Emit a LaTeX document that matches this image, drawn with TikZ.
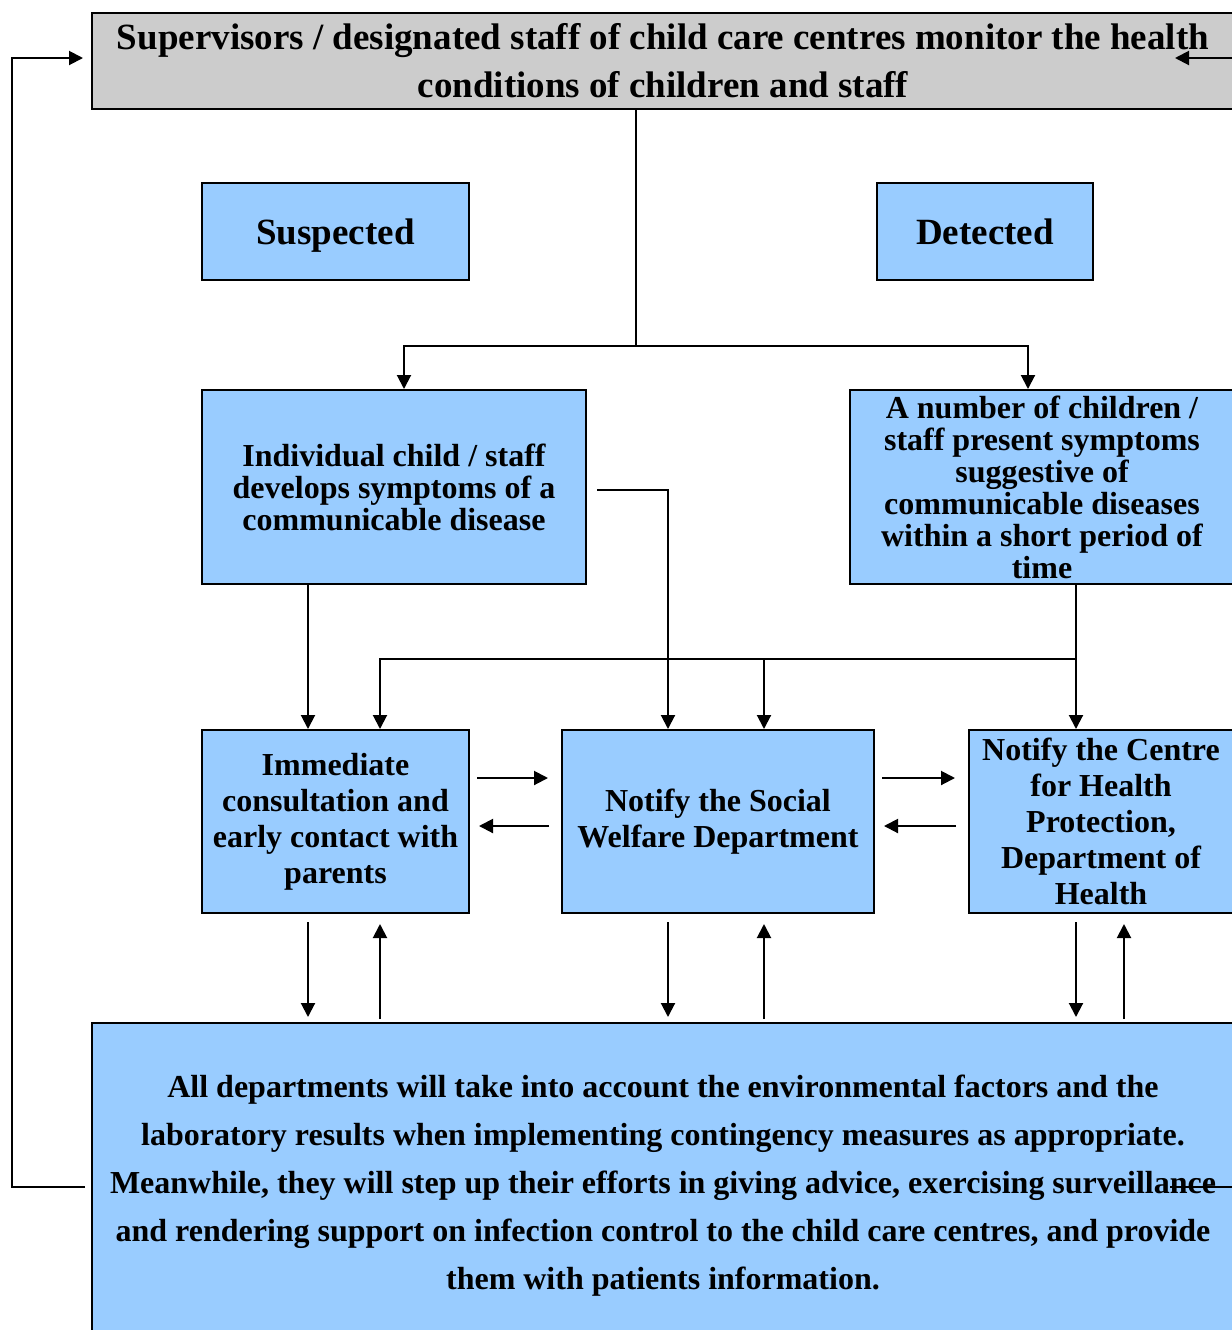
\documentclass[tikz,border=0pt]{standalone}
\usepackage{fontspec}
\setmainfont{Liberation Serif}
\usetikzlibrary{arrows.meta,calc}

\definecolor{boxblue}{HTML}{99CCFF}
\definecolor{boxgray}{HTML}{CCCCCC}

\tikzset{
    box/.style={draw, line width=1pt, fill=boxblue, align=center, inner sep=0pt},
    boxtext/.style={font=\fontsize{16}{16}\selectfont\bfseries},
    bigtext/.style={font=\fontsize{16}{18}\selectfont\bfseries},
    arr/.style={line width=1pt, -{Triangle[length=7pt,width=7pt]}},
    line/.style={line width=1pt}
}

\begin{document}
\begin{tikzpicture}[x=0.5pt, y=-0.5pt] % one unit = one pixel of the layout, y runs down
    \useasboundingbox (0,0) rectangle (1232,1330);
    \clip (0,0) rectangle (1232,1330); % boxes on the right run off the page

    % boxes
    \node[box, fill=boxgray, minimum width=571pt, minimum height=48pt,
          font=\fontsize{18.5}{24}\selectfont\bfseries] (top) at (663,61)
        {Supervisors / designated staff of child care centres monitor the health\\conditions of children and staff};
    \node[box, minimum width=133.5pt, minimum height=48.5pt, text depth=0pt,
          font=\fontsize{18.5}{22}\selectfont\bfseries] (susp) at (335.5,231.5) {Suspected};
    \node[box, minimum width=108pt, minimum height=48.5pt,
          font=\fontsize{18.5}{22}\selectfont\bfseries] (detect) at (985,231.5) {Detected};
    \node[box, boxtext, minimum width=192pt, minimum height=97pt] (indiv) at (394,487)
        {Individual child / staff\\develops symptoms of a\\communicable disease};
    \node[box, boxtext, minimum width=192pt, minimum height=97pt] (group) at (1042,487)
        {A number of children /\\staff present symptoms\\suggestive of\\communicable diseases\\within a short period of\\time};
    \node[box, bigtext, minimum width=133.5pt, minimum height=91.5pt] (immed) at (335.5,821.5)
        {Immediate\\consultation and\\early contact with\\parents};
    \node[box, bigtext, minimum width=156pt, minimum height=91.5pt] (swd) at (718,821.5)
        {Notify the Social\\Welfare Department};
    \node[box, bigtext, minimum width=132pt, minimum height=91.5pt] (chp) at (1101,821.5)
        {Notify the Centre\\for Health\\Protection,\\Department of\\Health};
    \node[box, minimum width=571pt, minimum height=163pt,
          font=\fontsize{16}{24}\selectfont\bfseries] (bottom) at (663,1186)
        {All departments will take into account the environmental factors and the\\
         laboratory results when implementing contingency measures as appropriate.\\
         Meanwhile, they will step up their efforts in giving advice, exercising surveillance\\
         and rendering support on infection control to the child care centres, and provide\\
         them with patients information.};

    % split from the monitoring box
    \coordinate (split) at (636,346);
    \draw[line] (top.south -| split) -- (split);
    \draw[arr] (split) -| ($(indiv.north)+(5pt,0)$);
    \draw[arr] (split) -| ($(group.north)+(-7pt,0)$);

    % individual case
    \coordinate (ind1) at ($(immed.north)+(-13.75pt,0)$);
    \draw[arr] ($(indiv.east)+(5pt,-1.5pt)$) -| ($(swd.north)+(-25pt,0)$);
    \draw[arr] (ind1 |- indiv.south) -- (ind1);

    % cluster of cases
    \coordinate (grp1) at ($(group.south)+(17pt,0)$);
    \coordinate (join) at ($(grp1)+(0,-37pt)$);
    \coordinate (swd1) at ($(swd.north)+(23pt,0)$);
    \draw[arr] (grp1) -- (grp1 |- chp.north);
    \draw[arr] (join) -| ($(immed.north)+(22.25pt,0)$);
    \draw[arr] (swd1 |- join) -- (swd1);

    % between the notify boxes
    \foreach \a/\b in {immed/swd, swd/chp}{
        \draw[arr] ($(\a.east)+(3.5pt,21.75pt)$) -- ($(\b.west)+(-6.5pt,21.75pt)$);
        \draw[arr] ($(\b.west)+(-6pt,-2.25pt)$) -- ($(\a.east)+(4.5pt,-2.25pt)$);
    }

    % to and from the bottom box
    \foreach \n/\dx/\ux in {immed/-13.75/22.25, swd/-25/23, chp/-12.5/11.5}{
        \draw[arr] ($(\n.south)+(\dx pt,-4pt)$) -- ($(\n.south |- bottom.north)+(\dx pt,2.5pt)$);
        \draw[arr] ($(\n.south |- bottom.north)+(\ux pt,1.5pt)$) -- ($(\n.south)+(\ux pt,-5pt)$);
    }

    % feedback loops back to the top
    \coordinate (lloop) at (12,1187);
    \coordinate (rloop) at (1260,1187);
    \draw[arr] ($(bottom.west)+(-3pt,-0.5pt)$) -- (lloop) |- ($(top.west)+(-4pt,1.5pt)$);
    \draw[arr] (1170,1187) -- (rloop) |- (1175,58);
\end{tikzpicture}
\end{document}
